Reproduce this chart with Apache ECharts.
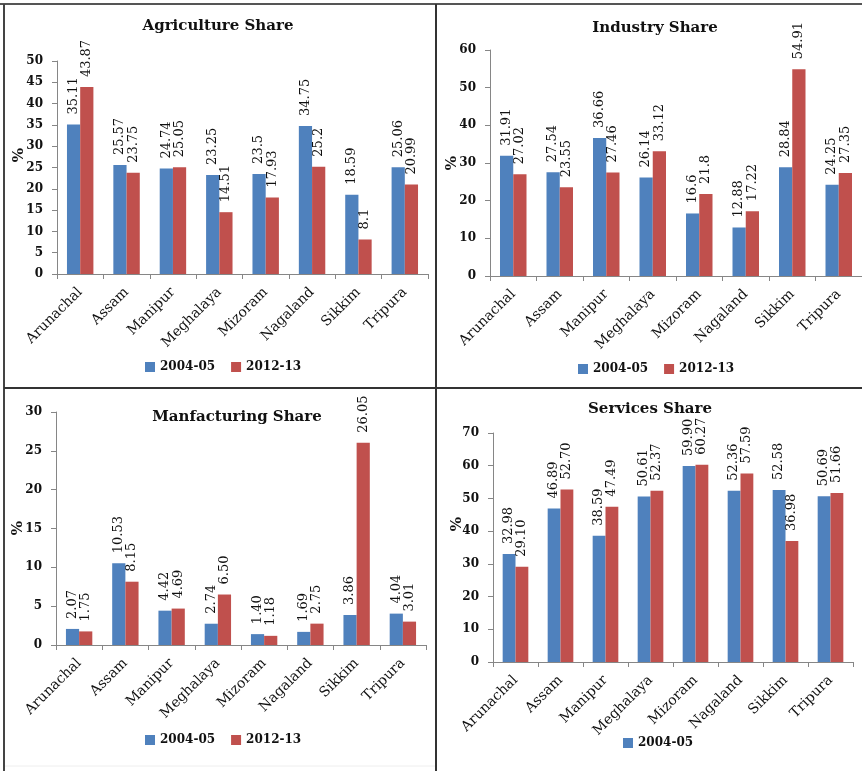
<!DOCTYPE html>
<html>
<head>
<meta charset="utf-8">
<script src="https://cdn.jsdelivr.net/npm/echarts@6/dist/echarts.min.js"></script>
<style>
html, body { margin: 0; padding: 0; background: #fff; }
#chart { width: 862px; height: 771px; }
</style>
</head>
<body>
<div id="chart"></div>
<script>
// Sector shares (%) of Gross State Domestic Product, North-East states
const states = ['Arunachal', 'Assam', 'Manipur', 'Meghalaya', 'Mizoram', 'Nagaland', 'Sikkim', 'Tripura'];
const periods = ['2004-05', '2012-13'];

const agriculture0405 = [35.11, 25.57, 24.74, 23.25, 23.5, 34.75, 18.59, 25.06];
const agriculture1213 = [43.87, 23.75, 25.05, 14.51, 17.93, 25.2, 8.1, 20.99];

const industry0405 = [31.91, 27.54, 36.66, 26.14, 16.6, 12.88, 28.84, 24.25];
const industry1213 = [27.02, 23.55, 27.46, 33.12, 21.8, 17.22, 54.91, 27.35];

const manufacturing0405 = [2.07, 10.53, 4.42, 2.74, 1.40, 1.69, 3.86, 4.04];
const manufacturing1213 = [1.75, 8.15, 4.69, 6.50, 1.18, 2.75, 26.05, 3.01];

const services0405 = [32.98, 46.89, 38.59, 50.61, 59.90, 52.36, 52.58, 50.69];
const services1213 = [29.10, 52.70, 47.49, 52.37, 60.27, 57.59, 36.98, 51.66];

const panelTitles = ['Agriculture Share', 'Industry Share', 'Manfacturing Share', 'Services Share'];
const axisMax = [50, 60, 30, 70];
const axisStep = [5, 10, 5, 10];

const FONT = 'DejaVu Serif';
const BLUE = '#4F81BD';
const RED = '#C0504D';
const AXIS_GRAY = '#868686';

// Layout of the four panels (2 x 2)
const panels = [
  { data: [agriculture0405, agriculture1213], fixed: false, legendNames: periods,
    grid: { left: 57, top: 61, width: 371, height: 213 }, title: [218, 19], legend: [145, 361], pct: [19, 155] },
  { data: [industry0405, industry1213], fixed: false, legendNames: periods,
    grid: { left: 490, top: 50, width: 377, height: 226 }, title: [655, 21], legend: [578, 363], pct: [452, 163] },
  { data: [manufacturing0405, manufacturing1213], fixed: true, legendNames: periods,
    grid: { left: 56, top: 412, width: 370, height: 233 }, title: [237, 410], legend: [145, 734], pct: [18, 528] },
  { data: [services0405, services1213], fixed: true, legendNames: [periods[0]],
    grid: { left: 493, top: 433, width: 360, height: 229 }, title: [650, 402], legend: [623, 737], pct: [457, 524] }
];

const grids = [], xAxes = [], yAxes = [], series = [], titles = [], legends = [], graphics = [];

panels.forEach((p, i) => {
  grids.push(Object.assign({ containLabel: false }, p.grid));

  titles.push({
    text: panelTitles[i],
    left: p.title[0], top: p.title[1], textAlign: 'center', padding: 0,
    textStyle: { fontFamily: FONT, fontWeight: 'bold', fontSize: 15, color: '#111' }
  });

  legends.push({
    data: p.legendNames,
    left: p.legend[0], top: p.legend[1], padding: 0,
    icon: 'rect', itemWidth: 10, itemHeight: 10, itemGap: 16,
    textStyle: { fontFamily: FONT, fontWeight: 'bold', fontSize: 12, color: '#111' }
  });

  xAxes.push({
    type: 'category', gridIndex: i, data: states,
    axisLine: { show: true, lineStyle: { color: AXIS_GRAY, width: 1 } },
    axisTick: { show: true, length: 5, lineStyle: { color: AXIS_GRAY } },
    axisLabel: { interval: 0, rotate: 45, margin: 16, fontFamily: FONT, fontSize: 14, color: '#111' },
    splitLine: { show: false }
  });

  yAxes.push({
    type: 'value', gridIndex: i, min: 0, max: axisMax[i], interval: axisStep[i],
    axisLine: { show: true, lineStyle: { color: AXIS_GRAY, width: 1 } },
    axisTick: { show: true, length: 5, lineStyle: { color: AXIS_GRAY } },
    axisLabel: { margin: 14, fontFamily: FONT, fontWeight: 'bold', fontSize: 12, color: '#111' },
    splitLine: { show: false }
  });

  periods.forEach((name, j) => {
    series.push({
      type: 'bar', name: name, xAxisIndex: i, yAxisIndex: i,
      data: p.data[j],
      barGap: '0%', barCategoryGap: '43%',
      itemStyle: { color: j === 0 ? BLUE : RED },
      label: {
        show: true, position: 'top', distance: 10, rotate: 90,
        align: 'left', verticalAlign: 'middle',
        fontFamily: FONT, fontSize: 13, color: '#111',
        formatter: p.fixed ? (d) => d.value.toFixed(2) : (d) => String(d.value)
      }
    });
  });

  // axis caption
  graphics.push({
    type: 'text', x: p.pct[0], y: p.pct[1], rotation: Math.PI / 2,
    style: { text: '%', fontFamily: FONT, fontWeight: 'bold', fontSize: 15, fill: '#111', align: 'center', verticalAlign: 'middle' }
  });
});

// panel frames
const frame = (x1, y1, x2, y2, color, w) => ({
  type: 'line', silent: true,
  shape: { x1: x1, y1: y1, x2: x2, y2: y2 },
  style: { stroke: color, lineWidth: w }
});
graphics.push(
  frame(0, 4, 862, 4, '#555', 2),
  frame(4, 4, 4, 771, '#444', 2),
  frame(436, 4, 436, 771, '#333', 2),
  frame(4, 388, 862, 388, '#333', 2),
  frame(5, 766, 435, 766, '#eeeeee', 1)
);

const chart = echarts.init(document.getElementById('chart'), null, { renderer: 'canvas' });
chart.setOption({
  animation: false,
  backgroundColor: '#fff',
  title: titles,
  legend: legends,
  grid: grids,
  xAxis: xAxes,
  yAxis: yAxes,
  series: series,
  graphic: graphics
});
</script>
</body>
</html>
